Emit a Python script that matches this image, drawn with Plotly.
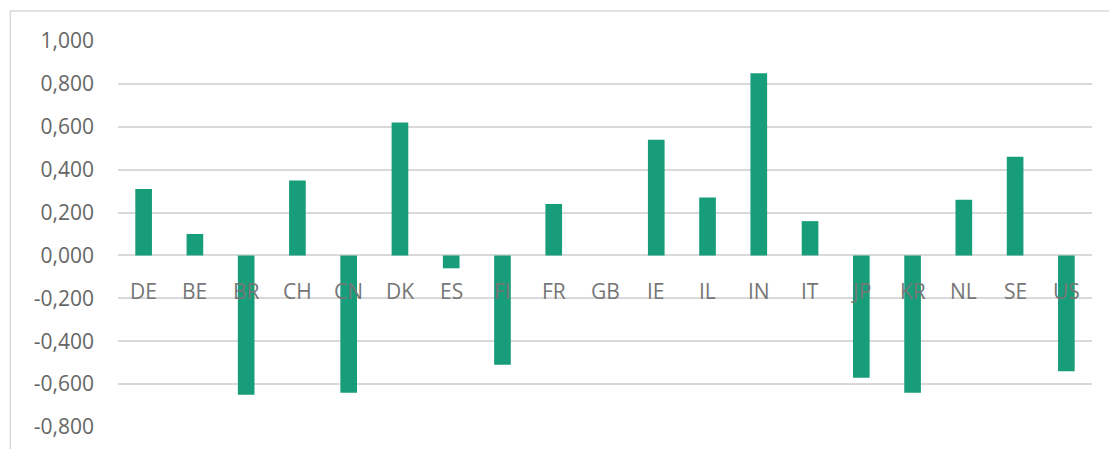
import plotly.graph_objects as go

# Country codes and their values
countries = ["DE", "BE", "BR", "CH", "CN", "DK", "ES", "FI", "FR", "GB",
             "IE", "IL", "IN", "IT", "JP", "KR", "NL", "SE", "US"]
values = [0.31, 0.10, -0.65, 0.35, -0.64, 0.62, -0.06, -0.51, 0.24, 0.0,
          0.54, 0.27, 0.85, 0.16, -0.57, -0.64, 0.26, 0.46, -0.54]

# Y axis ticks with comma decimal separator
y_ticks = [1.0, 0.8, 0.6, 0.4, 0.2, 0.0, -0.2, -0.4, -0.6, -0.8]
y_tick_labels = ["1,000", "0,800", "0,600", "0,400", "0,200", "0,000",
                 "-0,200", "-0,400", "-0,600", "-0,800"]

BAR_COLOR = "#189d7b"
GRID_COLOR = "#d9d9d9"
FONT = "Open Sans, Noto Sans, sans-serif"

fig = go.Figure(
    go.Bar(
        x=countries,
        y=values,
        marker=dict(color=BAR_COLOR, line=dict(width=0)),
        hoverinfo="x+y",
    )
)

y_min, y_max = -0.8, 1.0

# Category names sit just under the zero line, on top of the bars
category_labels = [
    dict(x=c, y=0, xref="x", yref="y", text=c, showarrow=False,
         yanchor="middle", xanchor="center", yshift=-36,
         font=dict(family=FONT, size=21, color="#767676"))
    for c in countries
]

fig.update_layout(
    width=1109,
    height=449,
    autosize=False,
    margin=dict(l=118, r=17, t=41, b=22),
    paper_bgcolor="white",
    plot_bgcolor="white",
    bargap=0.675,
    showlegend=False,
    font=dict(family=FONT, size=21, color="#666666"),
    xaxis=dict(
        type="category",
        showgrid=False,
        showline=False,
        zeroline=False,
        showticklabels=False,
        ticks="",
        automargin=False,
    ),
    yaxis=dict(
        range=[y_min, y_max],
        tickvals=y_ticks,
        ticktext=y_tick_labels,
        showgrid=True,
        gridcolor=GRID_COLOR,
        gridwidth=1.5,
        zeroline=True,
        zerolinecolor=GRID_COLOR,
        zerolinewidth=1.5,
        showline=False,
        ticks="",
        ticklabelstandoff=23,
        automargin=False,
        tickfont=dict(family=FONT, size=21, color="#666666"),
    ),
    annotations=category_labels,
    shapes=[
        # outer chart frame
        dict(type="rect", xref="paper", yref="paper",
             x0=-0.1105, x1=1.2, y0=-0.2, y1=1.0775,
             line=dict(color=GRID_COLOR, width=1.5), layer="below"),
    ],
)

fig.write_html("out.html")
